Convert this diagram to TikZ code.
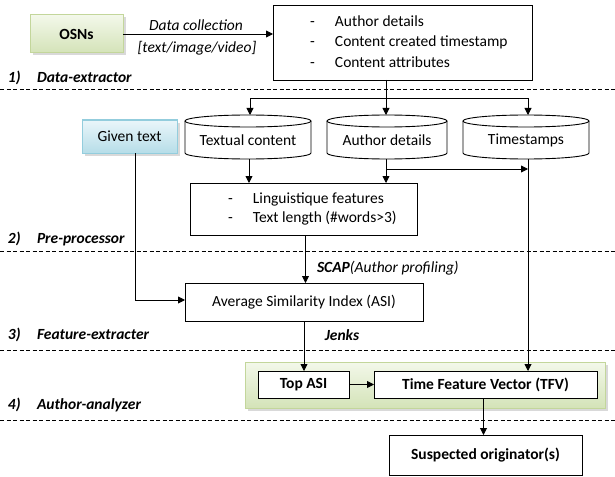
\documentclass[tikz,border=0pt]{standalone}
\usepackage{fontspec}
\setmainfont{Carlito}
\usetikzlibrary{arrows.meta,shadows,calc}
\definecolor{gtop}{HTML}{F3F8EA}
\definecolor{gbot}{HTML}{D4E3B8}
\definecolor{gbor}{HTML}{C3D69B}
\definecolor{btop}{HTML}{EAF6FA}
\definecolor{bbot}{HTML}{B6DDE8}
\definecolor{bbor}{HTML}{93CDDD}
\newcommand\mycyl[2]{%
  \draw[fill=white] ([yshift=-6pt]#1.north west) -- ([yshift=6pt]#1.south west)
    arc[start angle=180,end angle=360,x radius=#2,y radius=6pt]
    -- ([yshift=-6pt]#1.north east);
  \draw[fill=white] ([yshift=-6pt]#1.north) ellipse[x radius=#2,y radius=6pt];
}
\begin{document}
\begin{tikzpicture}[x=1pt,y=-1pt,
  font=\fontsize{15.5}{19}\selectfont,
  line width=0.9pt,
  every node/.style={inner sep=0pt,outer sep=0pt},
  box/.style={draw,fill=white,line width=0.9pt},
  greenbox/.style={draw=gbor,line width=1pt,top color=gtop,bottom color=gbot,
     drop shadow={shadow xshift=2.5pt,shadow yshift=-2.5pt,fill=black!25,opacity=0.6}},
  bluebox/.style={draw=bbor,line width=1pt,top color=btop,bottom color=bbot,
     drop shadow={shadow xshift=2.5pt,shadow yshift=-2.5pt,fill=black!25,opacity=0.6}},
  arr/.style={-{Triangle[length=7pt,width=7pt]},line width=0.9pt},
  sep/.style={dash pattern=on 4pt off 2.5pt,line width=0.75pt},
  seclabel/.style={anchor=west,font=\fontsize{15.5}{19}\selectfont\bfseries\itshape},
  lbl/.style={font=\fontsize{15.5}{19}\selectfont\itshape}
]
\useasboundingbox (0,0) rectangle (615,476);

% dashed separators
\coordinate (d1l) at (0,89);   \coordinate (d1r) at (615,89);
\coordinate (d2l) at (0,251);  \coordinate (d2r) at (615,251);
\coordinate (d3l) at (0,350);  \coordinate (d3r) at (615,350);
\coordinate (d4l) at (0,420);  \coordinate (d4r) at (615,420);
\draw[sep] (d1l) -- (d1r);
\draw[sep] (d2l) -- (d2r);
\draw[sep] (d3l) -- (d3r);
\draw[sep] (d4l) -- (d4r);

% section labels
\node[seclabel] (s1) at (8,78) {\makebox[29pt][l]{1)}Data-extractor};
\node[seclabel] (s2) at (8,239) {\makebox[29pt][l]{2)}Pre-processor};
\node[seclabel] (s3) at (8,335) {\makebox[29pt][l]{3)}Feature-extracter};
\node[seclabel] (s4) at (8,405) {\makebox[29pt][l]{4)}Author-analyzer};

% top row
\node[greenbox,minimum width=93pt,minimum height=38pt,font=\fontsize{15.5}{19}\selectfont\bfseries] (osn) at (76.5,34) {OSNs};
\node[box,minimum width=259pt,minimum height=75pt] (top) at (402.5,42.5) {};
\node[anchor=west,align=left] (toptext) at (310,41.5) {%
  \makebox[25pt][l]{-}Author details\\[1.5pt]
  \makebox[25pt][l]{-}Content created timestamp\\[1.5pt]
  \makebox[25pt][l]{-}Content attributes};
\draw[arr] (osn.east) -- (osn.east -| top.west);
\node[lbl] (dc) at (196,25) {Data collection};
\node[lbl] (ttv) at (197,48) {[text/image/video]};

% cylinders
\node[minimum width=126pt,minimum height=44pt] (tc) at (248,137) {};
\node[minimum width=120pt,minimum height=44pt] (ad) at (387,137) {};
\node[minimum width=126pt,minimum height=44pt] (ts) at (526,137) {};
\mycyl{tc}{63pt}
\mycyl{ad}{60pt}
\mycyl{ts}{63pt}
\node (tct) at (248,140) {Textual content};
\node (adt) at (387,140) {Author details};
\node (tst) at (526,140) {Timestamps};

\coordinate (split) at (386,98);
\draw (split |- top.south) -- (split);
\draw[arr] (split) -- (split |- ad.north);
\draw[arr] (split) -| ([xshift=2pt]tc.north);
\draw[arr] (split) -| ([xshift=2pt]ts.north);

% given text
\node[bluebox,minimum width=95pt,minimum height=33pt] (gt) at (129.5,136.5) {Given text};

% linguistique box
\node[box,minimum width=227pt,minimum height=52pt] (ling) at (303.5,209) {};
\node[anchor=west,align=left] (lingtext) at (228,208.5) {%
  \makebox[25pt][l]{-}Linguistique features\\[0pt]
  \makebox[25pt][l]{-}Text length (\#words>3)};
\draw[arr] ([xshift=1pt]tc.south) -- ([xshift=1pt]tc.south |- ling.north);
\draw[arr] ([xshift=-1pt]ad.south) -- ([xshift=-1pt]ad.south |- ling.north);
\coordinate (adb) at (386,169);
\coordinate (tsl) at (528,169);
\draw[arr] (adb) -- (tsl);

% ASI
\node[box,minimum width=238pt,minimum height=38pt] (asi) at (304,302) {Average Similarity Index (ASI)};
\draw[arr] ([xshift=2pt]ling.south) -- ([xshift=2pt]ling.south |- asi.north);
\node[anchor=west] (scap) at (317,268) {\textbf{\textit{SCAP}}\textit{(Author profiling)}};
\draw[arr] ([xshift=5.5pt]gt.south) |- ([yshift=2pt]asi.west);
\node[font=\fontsize{15.5}{19}\selectfont\bfseries\itshape] (jenks) at (342,335) {Jenks};

% analyzer container
\node[greenbox,minimum width=360pt,minimum height=46pt] (cont) at (425,385) {};
\node[box,minimum width=91pt,minimum height=27pt,font=\fontsize{15.5}{19}\selectfont\bfseries] (topasi) at (303.5,384.5) {Top ASI};
\node[box,minimum width=223pt,minimum height=27pt,font=\fontsize{15.5}{19}\selectfont\bfseries] (tfv) at (485.5,384.5) {Time Feature Vector (TFV)};
\draw[arr] (asi.south) -- (asi.south |- topasi.north);
\draw[arr] ([xshift=2pt]ts.south) -- ([xshift=2pt]ts.south |- tfv.north);
\draw[arr] (topasi.east) -- (tfv.west);

% result
\node[box,minimum width=193pt,minimum height=40pt,font=\fontsize{15.5}{19}\selectfont\bfseries] (sus) at (485.5,455) {Suspected originator(s)};
\draw[arr] ([xshift=-2pt]tfv.south) -- ([xshift=-2pt]tfv.south |- sus.north);
\end{tikzpicture}
\end{document}
